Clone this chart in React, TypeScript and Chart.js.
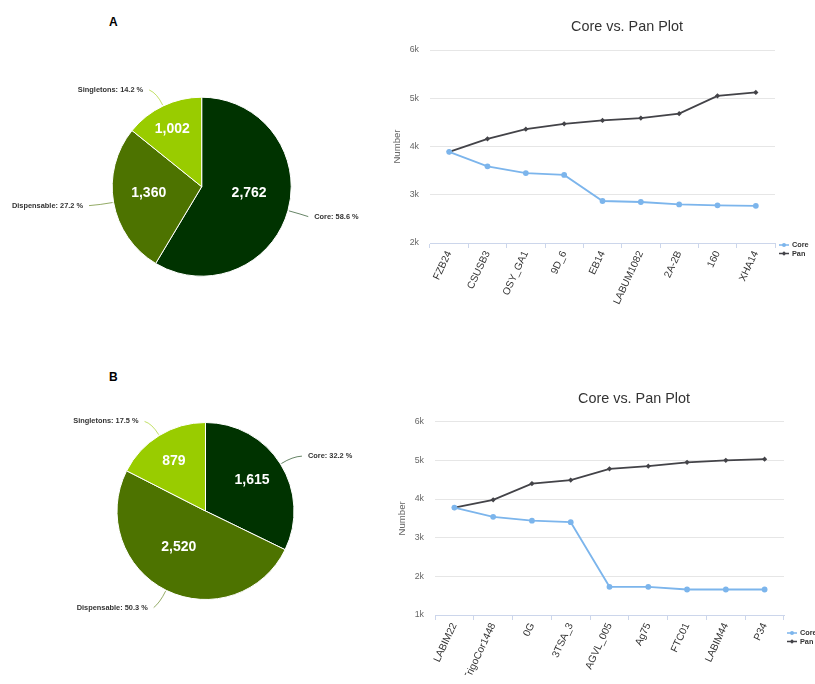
import React, { useEffect, useRef } from 'react';
import { Chart, registerables } from 'chart.js';

Chart.register(...registerables);

const FONT = '"Liberation Sans", Arial, Helvetica, sans-serif';

// Gene-family partition of each pan-genome
const partitionNames = ['Core', 'Dispensable', 'Singletons'];
const partitionColors = ['#003300', '#4d7300', '#99cc00'];
const sharesA = [58.6, 27.2, 14.2];
const countsA = [2762, 1360, 1002];
const sharesB = [32.2, 50.3, 17.5];
const countsB = [1615, 2520, 879];

// Core and pan gene counts as genomes are added one by one
const genomesA = ['FZB24', 'CSUSB3', 'OSY_GA1', '9D_6', 'EB14', 'LABUM1082', '2A-2B', '160', 'XHA14'];
const coreA = [3890, 3590, 3450, 3410, 2870, 2850, 2800, 2780, 2770];
const panA = [3890, 4160, 4360, 4470, 4540, 4590, 4680, 5050, 5120];

const genomesB = ['LABIM22', 'TrigoCor1448', '0G', '3TSA_3', 'AGVL_005', 'Ag75', 'FTC01', 'LABIM44', 'P34'];
const coreB = [3780, 3540, 3440, 3400, 1730, 1730, 1660, 1660, 1660];
const panB = [3780, 3980, 4400, 4490, 4780, 4850, 4950, 5000, 5030];

const yRangeA = [2000, 6000];
const yRangeB = [1000, 6000];
const yStep = 1000;

const CORE_COLOR = '#7cb5ec';
const PAN_COLOR = '#434348';

// Count labels inside the slices and "Name: share %" labels with connectors outside
const pieLabelsPlugin = {
  id: 'pieLabels',
  afterDatasetsDraw(chart: any, _args: any, opts: any) {
    const { ctx } = chart;
    const meta = chart.getDatasetMeta(0);
    const names = chart.data.labels as string[];
    const colors = chart.data.datasets[0].backgroundColor as string[];
    meta.data.forEach((arc: any, i: number) => {
      const { x, y, startAngle, endAngle, outerRadius } = arc.getProps(
        ['x', 'y', 'startAngle', 'endAngle', 'outerRadius'],
        true
      );
      const mid = (startAngle + endAngle) / 2;
      const cos = Math.cos(mid);
      const sin = Math.sin(mid);

      ctx.save();
      // count inside the slice
      const ir = outerRadius * opts.innerFrac[i];
      ctx.font = `bold 14px ${FONT}`;
      ctx.fillStyle = '#ffffff';
      ctx.textAlign = 'center';
      ctx.textBaseline = 'middle';
      ctx.fillText(
        opts.counts[i].toLocaleString('en-US'),
        x + cos * ir + opts.innerNudge[i][0],
        y + sin * ir + opts.innerNudge[i][1]
      );

      // outer label and connector
      const right = cos >= 0;
      const d = outerRadius + opts.distance;
      const ax = x + cos * d + opts.outerNudge[i][0];
      const ay = y + sin * d + opts.outerNudge[i][1];
      const endX = ax + (right ? -6 : 6);
      const bx = x + cos * (outerRadius + 14);
      const by = y + sin * (outerRadius + 14);
      const ex = x + cos * (outerRadius + 1);
      const ey = y + sin * (outerRadius + 1);
      ctx.globalAlpha = 0.6;
      ctx.strokeStyle = colors[i];
      ctx.lineWidth = 1;
      ctx.beginPath();
      ctx.moveTo(endX, ay);
      ctx.quadraticCurveTo(bx, by, ex, ey);
      ctx.stroke();
      ctx.globalAlpha = 1;

      ctx.font = `bold 7.4px ${FONT}`;
      ctx.fillStyle = '#333333';
      ctx.textAlign = right ? 'left' : 'right';
      ctx.fillText(`${names[i]}: ${opts.shares[i].toFixed(1)} %`, ax, ay);
      ctx.restore();
    });
  },
};

// Plot title centred a little right of the plot area
const plotTitlePlugin = {
  id: 'plotTitle',
  afterDraw(chart: any, _args: any, opts: any) {
    const { ctx, chartArea } = chart;
    ctx.save();
    ctx.font = `14.4px ${FONT}`;
    ctx.fillStyle = '#333333';
    ctx.textAlign = 'center';
    ctx.textBaseline = 'middle';
    ctx.fillText(opts.text, (chartArea.left + chartArea.right) / 2 + 24.5, chartArea.top - 22.5);
    ctx.restore();
  },
};

// Small legend tucked under the right end of the x axis
const sideLegendPlugin = {
  id: 'sideLegend',
  afterDraw(chart: any, _args: any, opts: any) {
    const { ctx, chartArea } = chart;
    ctx.save();
    chart.data.datasets.forEach((ds: any, i: number) => {
      const x0 = chartArea.right + opts.dx;
      const y0 = chartArea.bottom + opts.dy + i * 8.5;
      ctx.strokeStyle = ds.borderColor;
      ctx.fillStyle = ds.borderColor;
      ctx.lineWidth = 1.5;
      ctx.beginPath();
      ctx.moveTo(x0, y0);
      ctx.lineTo(x0 + 10, y0);
      ctx.stroke();
      ctx.beginPath();
      if (ds.pointStyle === 'rectRot') {
        ctx.moveTo(x0 + 5, y0 - 2.2);
        ctx.lineTo(x0 + 7.2, y0);
        ctx.lineTo(x0 + 5, y0 + 2.2);
        ctx.lineTo(x0 + 2.8, y0);
        ctx.closePath();
      } else {
        ctx.arc(x0 + 5, y0, 2, 0, Math.PI * 2);
      }
      ctx.fill();
      ctx.font = `bold 7.3px ${FONT}`;
      ctx.fillStyle = '#333333';
      ctx.textAlign = 'left';
      ctx.textBaseline = 'middle';
      ctx.fillText(ds.label, x0 + 13, y0);
    });
    ctx.restore();
  },
};

type PieProps = {
  shares: number[];
  counts: number[];
  left: number;
  top: number;
  width: number;
  height: number;
  padding: { left: number; top: number; right: number; bottom: number };
  innerFrac: number[];
  innerNudge: number[][];
  outerNudge: number[][];
};

function PartitionPie(p: PieProps) {
  const ref = useRef<HTMLCanvasElement>(null);
  useEffect(() => {
    const chart = new Chart(ref.current as HTMLCanvasElement, {
      type: 'pie',
      data: {
        labels: partitionNames,
        datasets: [
          {
            data: p.shares,
            backgroundColor: partitionColors,
            borderColor: '#ffffff',
            borderWidth: 1,
          },
        ],
      },
      options: {
        responsive: false,
        animation: false,
        events: [],
        layout: { padding: p.padding },
        plugins: {
          legend: { display: false },
          tooltip: { enabled: false },
          pieLabels: {
            counts: p.counts,
            shares: p.shares,
            distance: 30,
            innerFrac: p.innerFrac,
            innerNudge: p.innerNudge,
            outerNudge: p.outerNudge,
          },
        } as any,
      },
      plugins: [pieLabelsPlugin],
    });
    return () => chart.destroy();
  }, []);
  return (
    <canvas
      ref={ref}
      width={p.width}
      height={p.height}
      style={{ position: 'absolute', left: p.left, top: p.top }}
    />
  );
}

type LineProps = {
  genomes: string[];
  core: number[];
  pan: number[];
  yRange: number[];
  left: number;
  top: number;
  width: number;
  height: number;
  padding: { left: number; top: number; right: number; bottom: number };
  xAxisHeight: number;
  legendDx: number;
  legendDy: number;
};

function CorePanPlot(p: LineProps) {
  const ref = useRef<HTMLCanvasElement>(null);
  useEffect(() => {
    const chart = new Chart(ref.current as HTMLCanvasElement, {
      type: 'line',
      data: {
        labels: p.genomes,
        datasets: [
          {
            label: 'Core',
            data: p.core,
            borderColor: CORE_COLOR,
            backgroundColor: CORE_COLOR,
            borderWidth: 1.8,
            pointStyle: 'circle',
            pointRadius: 2.9,
            pointBorderWidth: 0,
            pointBackgroundColor: CORE_COLOR,
            tension: 0,
          },
          {
            label: 'Pan',
            data: p.pan,
            borderColor: PAN_COLOR,
            backgroundColor: PAN_COLOR,
            borderWidth: 1.8,
            pointStyle: 'rectRot',
            pointRadius: 2.6,
            pointBorderWidth: 0,
            pointBackgroundColor: PAN_COLOR,
            tension: 0,
          },
        ],
      },
      options: {
        responsive: false,
        animation: false,
        events: [],
        layout: { padding: p.padding },
        scales: {
          x: {
            type: 'category',
            offset: true,
            grid: {
              offset: true,
              drawOnChartArea: false,
              drawTicks: true,
              tickLength: 5,
              color: '#ccd6eb',
            },
            border: { color: '#ccd6eb' },
            ticks: {
              autoSkip: false,
              minRotation: 65,
              maxRotation: 65,
              padding: 1,
              color: '#333333',
              font: { family: FONT, size: 10.2 },
            },
            afterFit: (scale: any) => {
              scale.height = p.xAxisHeight;
            },
          },
          y: {
            min: p.yRange[0],
            max: p.yRange[1],
            grid: { color: '#e6e6e6', drawTicks: false },
            border: { display: false },
            ticks: {
              stepSize: yStep,
              padding: 11,
              color: '#666666',
              font: { family: FONT, size: 8.8 },
              callback: (v: any) => `${Number(v) / 1000}k`,
            },
            title: {
              display: true,
              text: 'Number',
              color: '#666666',
              padding: { top: 2, bottom: 0 },
              font: { family: FONT, size: 9.6 },
            },
            afterFit: (scale: any) => {
              scale.width = 40;
            },
          },
        },
        plugins: {
          legend: { display: false },
          tooltip: { enabled: false },
          plotTitle: { text: 'Core vs. Pan Plot' },
          sideLegend: { dx: p.legendDx, dy: p.legendDy },
        } as any,
      },
      plugins: [plotTitlePlugin, sideLegendPlugin],
    });
    return () => chart.destroy();
  }, []);
  return (
    <canvas
      ref={ref}
      width={p.width}
      height={p.height}
      style={{ position: 'absolute', left: p.left, top: p.top }}
    />
  );
}

const panelLetter: React.CSSProperties = {
  position: 'absolute',
  left: 109,
  font: `bold 12px ${FONT}`,
  color: '#000',
  lineHeight: '12px',
};

export default function App() {
  return (
    <div
      style={{
        position: 'absolute',
        left: 0,
        top: 0,
        width: 815,
        height: 684,
        background: '#ffffff',
        overflow: 'hidden',
      }}
    >
      <div style={{ ...panelLetter, top: 16 }}>A</div>
      <div style={{ ...panelLetter, top: 371 }}>B</div>

      <PartitionPie
        shares={sharesA}
        counts={countsA}
        left={0}
        top={0}
        width={380}
        height={340}
        padding={{ left: 111.7, top: 96.7, right: 88.3, bottom: 63.3 }}
        innerFrac={[0.55, 0.59, 0.71]}
        innerNudge={[[0, -7], [-1, -3], [-2, 0]]}
        outerNudge={[[-2.6, -2], [-1, -2], [-7, 11]]}
      />
      <PartitionPie
        shares={sharesB}
        counts={countsB}
        left={0}
        top={360}
        width={380}
        height={324}
        padding={{ left: 116.5, top: 62, right: 85.5, bottom: 84 }}
        innerFrac={[0.62, 0.5, 0.66]}
        innerNudge={[[0, -2], [-7, -3], [-1, 0]]}
        outerNudge={[[2, 8], [-5, -9.5], [-5, 11.5]]}
      />

      <CorePanPlot
        genomes={genomesA}
        core={coreA}
        pan={panA}
        yRange={yRangeA}
        left={380}
        top={0}
        width={435}
        height={335}
        padding={{ left: 10, top: 50, right: 40, bottom: 22 }}
        xAxisHeight={70}
        legendDx={4}
        legendDy={2}
      />
      <CorePanPlot
        genomes={genomesB}
        core={coreB}
        pan={panB}
        yRange={yRangeB}
        left={380}
        top={370}
        width={435}
        height={314}
        padding={{ left: 15, top: 51.7, right: 31, bottom: 9 }}
        xAxisHeight={60}
        legendDx={3}
        legendDy={18}
      />
    </div>
  );
}
